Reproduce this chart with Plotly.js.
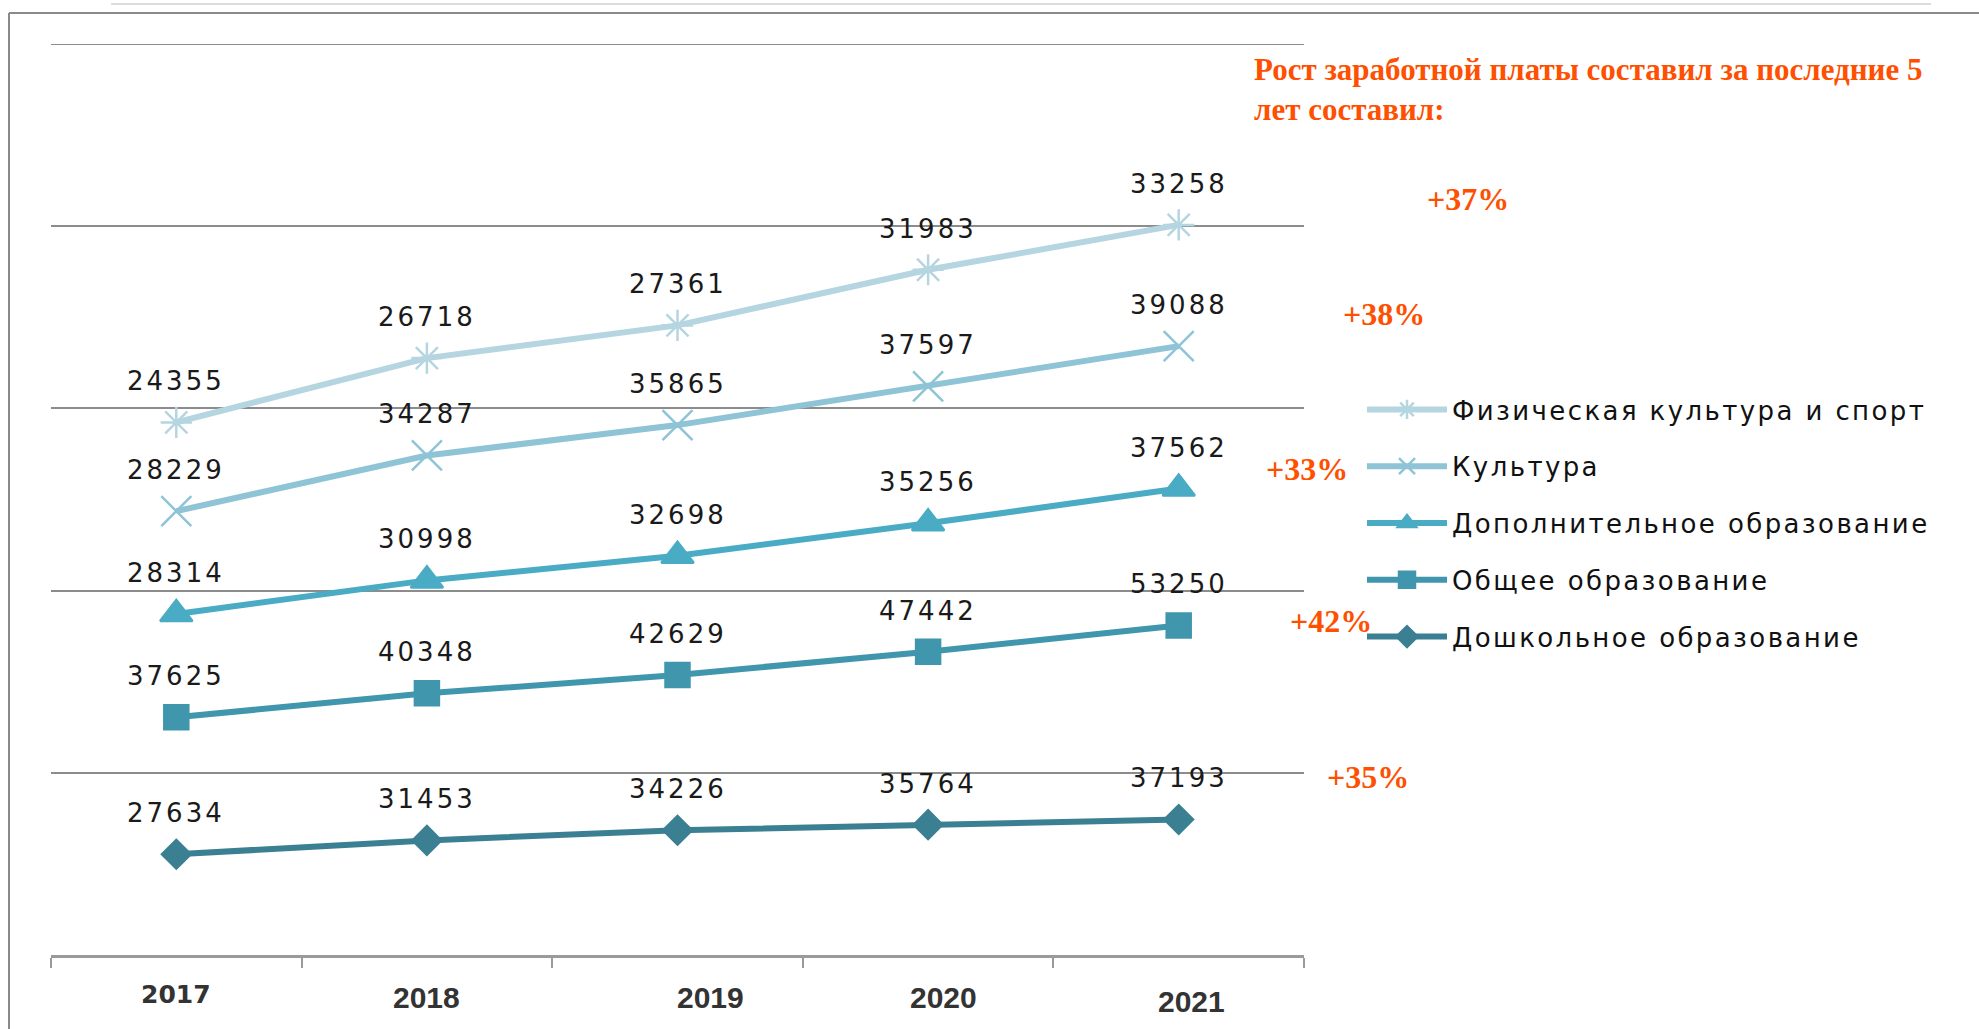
<!DOCTYPE html>
<html>
<head>
<meta charset="utf-8">
<script src="https://cdn.plot.ly/plotly-3.0.1.min.js"></script>
<style>
  html, body { margin: 0; padding: 0; background: #fff; }
  #chart { width: 1979px; height: 1029px; }
</style>
</head>
<body>
<div id="chart"></div>
<script>
// Données
const years = ['2017', '2018', '2019', '2020', '2021'];

const doshkolnoe = [27634, 31453, 34226, 35764, 37193];
const obshchee = [37625, 40348, 42629, 47442, 53250];
const dopolnit = [28314, 30998, 32698, 35256, 37562];
const kultura = [28229, 34287, 35865, 37597, 39088];
const sport = [24355, 26718, 27361, 31983, 33258];

const growth = ['+37%', '+38%', '+33%', '+42%', '+35%'];

// Zone du graphique en pixels
const L = 51, R = 1304, T = 44, B = 955;
const px = x => (x - L) / (R - L);
const py = y => (B - y) / (B - T);

const spaced = (t, s) => '<span style="letter-spacing:' + s + 'px">' + t + '</span>';
const labelFont = { family: 'DejaVu Sans, Verdana, sans-serif', size: 26, color: '#1a1a1a' };

// Séries empilées (du bas vers le haut)
const series = [
    { name: 'Дошкольное образование', v: doshkolnoe, color: '#3b7f92', symbol: 'diamond', size: 22 },
    { name: 'Общее образование', v: obshchee, color: '#4096ad', symbol: 'square', size: 24 },
    { name: 'Дополнительное образование', v: dopolnit, color: '#4aabc5', symbol: 'triangle-up', size: 28 },
    { name: 'Культура', v: kultura, color: '#8ec4d6', symbol: 'x-thin-open', size: 30 },
    { name: 'Физическая культура и спорт', v: sport, color: '#b5d5e0', symbol: 'asterisk-open', size: 26 }
];

let base = years.map(() => 0);
const traces = [];
const annotations = [];
series.forEach((s, k) => {
    const y = s.v.map((val, i) => base[i] + val);
    base = y;
    traces.push({
        x: years,
        y: y,
        type: 'scatter',
        mode: 'lines+markers',
        name: spaced(s.name, 2.4),
        legendgroup: 'g' + k,
        line: { color: s.color, width: 6 },
        marker: { symbol: s.symbol, size: s.size, color: s.color, line: { color: s.color, width: 2.5 } }
    });
    s.v.forEach((val, i) => {
        annotations.push({
            x: i, y: y[i], xref: 'x', yref: 'y',
            text: spaced(String(val), 3), showarrow: false, yshift: 41,
            font: labelFont
        });
    });
});

// Étiquettes des années (décalages comme sur l'original)
const yearShift = [0, 0, 33, 15, 13];
const yearDy = [0, 3, 2, 3, 6];
years.forEach((yr, i) => {
    annotations.push({
        x: i, y: py(995 + yearDy[i]), xref: 'x', yref: 'paper', yanchor: 'middle',
        text: '<b>' + yr + '</b>', showarrow: false, xshift: yearShift[i],
        font: i === 0
            ? { family: 'DejaVu Sans, Verdana, sans-serif', size: 25, color: '#333' }
            : { family: 'Liberation Sans, Arial, sans-serif', size: 30, color: '#333' }
    });
});

// Pourcentages de croissance
const growthPos = [[1468, 199], [1384, 314], [1307, 469], [1331, 621], [1368, 777]];
growth.forEach((g, i) => {
    annotations.push({
        x: px(growthPos[i][0]), y: py(growthPos[i][1]), xref: 'paper', yref: 'paper',
        text: '<b>' + g + '</b>', showarrow: false, xanchor: 'center', yanchor: 'middle',
        font: { family: 'Liberation Serif, Times New Roman, serif', size: 32, color: '#fe5000' }
    });
});

annotations.push({
    x: px(1252), y: py(50), xref: 'paper', yref: 'paper',
    xanchor: 'left', yanchor: 'top', align: 'left', showarrow: false,
    text: '<b>Рост заработной платы составил за последние 5<br>лет составил:</b>',
    font: { family: 'Liberation Serif, Times New Roman, serif', size: 31, color: '#fe5000' }
});

const shapes = [
    // ligne de grille du haut (250 000)
    { type: 'line', xref: 'paper', yref: 'y', x0: 0, x1: 1, y0: 250000, y1: 250000, line: { color: '#8c8c8c', width: 2 } },
    // cadre extérieur
    { type: 'line', xref: 'paper', yref: 'paper', x0: px(9), x1: px(1979), y0: py(13), y1: py(13), line: { color: '#8a8a8a', width: 2 } },
    { type: 'line', xref: 'paper', yref: 'paper', x0: px(9), x1: px(9), y0: py(13), y1: py(1029), line: { color: '#8a8a8a', width: 2 } },
    { type: 'line', xref: 'paper', yref: 'paper', x0: px(111), x1: px(1931), y0: py(4), y1: py(4), line: { color: '#dddddd', width: 2 } }
];

Plotly.newPlot('chart', traces.reverse(), {
    width: 1979,
    height: 1029,
    margin: { l: L, r: 1979 - R, t: T, b: 1029 - B },
    paper_bgcolor: '#fff',
    plot_bgcolor: '#fff',
    showlegend: true,
    legend: {
        x: px(1362), y: py(386), xanchor: 'left', yanchor: 'top',
        font: { family: 'DejaVu Sans, Verdana, sans-serif', size: 26, color: '#111' },
        tracegroupgap: 20, itemwidth: 80, bgcolor: 'rgba(0,0,0,0)'
    },
    xaxis: {
        type: 'category',
        range: [-0.5, 4.5],
        showline: true, linecolor: '#9a9a9a', linewidth: 3,
        ticks: 'outside', tickson: 'boundaries', ticklen: 10, tickwidth: 2, tickcolor: '#9a9a9a',
        showgrid: false, showticklabels: false
    },
    yaxis: {
        range: [0, 250000],
        dtick: 50000,
        showgrid: true, gridcolor: '#8c8c8c', gridwidth: 2,
        showticklabels: false, zeroline: false, showline: false, ticks: ''
    },
    annotations: annotations,
    shapes: shapes
}, { displayModeBar: false });
</script>
</body>
</html>
